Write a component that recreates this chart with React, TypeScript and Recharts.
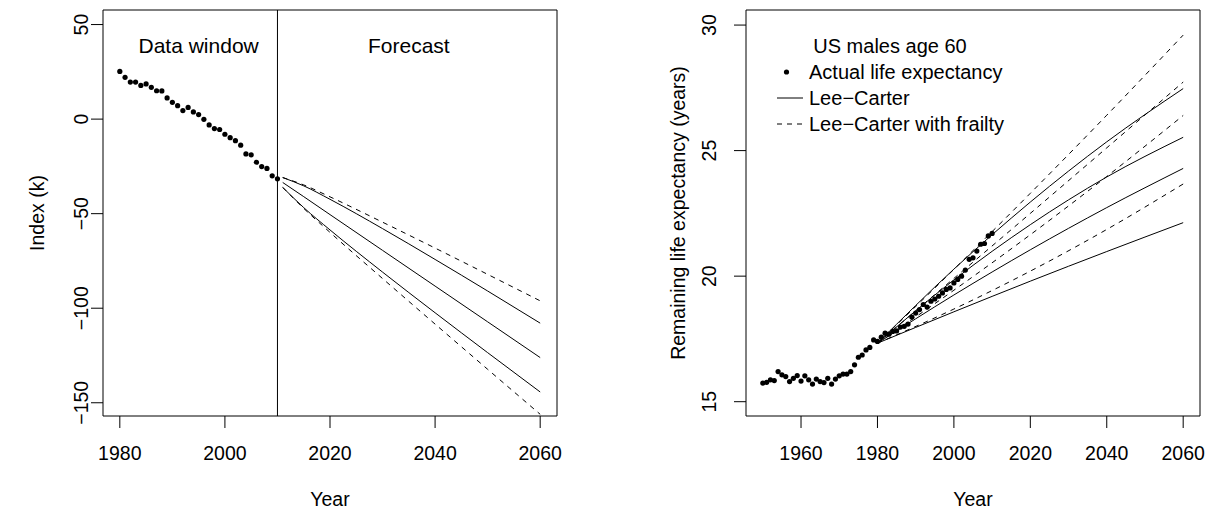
// Lee-Carter mortality index and life expectancy forecasts, two R-style panels.
import * as React from 'react'
import {
  ComposedChart,
  Legend,
  Line,
  ReferenceArea,
  ReferenceDot,
  ReferenceLine,
  Scatter,
  XAxis,
  YAxis
} from 'recharts'

const FONT = '"Liberation Sans", Arial, Helvetica, sans-serif'
const INK = '#000'
const DASH = '5 5'

// ---- left panel: mortality index k ----
const kYears = [
  1980, 1981, 1982, 1983, 1984, 1985, 1986, 1987, 1988, 1989, 1990, 1991, 1992, 1993, 1994, 1995,
  1996, 1997, 1998, 1999, 2000, 2001, 2002, 2003, 2004, 2005, 2006, 2007, 2008, 2009, 2010
]
const kIndex = [
  25.2, 22.1, 19.6, 19.6, 17.8, 18.6, 16.8, 15.0, 14.9, 11.2, 8.9, 7.1, 4.5, 6.2, 3.8, 2.4, -0.1,
  -3.1, -5.0, -5.5, -8.0, -9.8, -11.4, -13.8, -18.4, -18.9, -22.8, -25.1, -26.1, -30.0, -31.6
]
const kFcYears = [2011, 2015, 2020, 2030, 2040, 2050, 2060]
const kMean = [-33.5, -41.0, -50.5, -69.4, -88.3, -107.2, -126.1]
const kUpper = [-30.9, -35.3, -42.4, -57.9, -74.2, -90.9, -107.9]
const kLower = [-36.1, -46.8, -58.6, -80.9, -102.4, -123.5, -144.3]
const kUpperFrailty = [-30.9, -34.8, -41.1, -54.5, -68.2, -82.1, -96.1]
const kLowerFrailty = [-36.1, -47.2, -59.9, -84.3, -108.4, -132.3, -156.1]
const kXTicks = [1980, 2000, 2020, 2040, 2060]
const kYTicks = [-150, -100, -50, 0, 50]
const kXDomain = [1976.8, 2063.2]
const kYDomain = [-157, 57.7]

// ---- right panel: remaining life expectancy, US males age 60 ----
const leYears = [
  1950, 1951, 1952, 1953, 1954, 1955, 1956, 1957, 1958, 1959, 1960, 1961, 1962, 1963, 1964, 1965,
  1966, 1967, 1968, 1969, 1970, 1971, 1972, 1973, 1974, 1975, 1976, 1977, 1978, 1979, 1980, 1981,
  1982, 1983, 1984, 1985, 1986, 1987, 1988, 1989, 1990, 1991, 1992, 1993, 1994, 1995, 1996, 1997,
  1998, 1999, 2000, 2001, 2002, 2003, 2004, 2005, 2006, 2007, 2008, 2009, 2010
]
const leActual = [
  15.74, 15.77, 15.87, 15.84, 16.2, 16.07, 16.0, 15.8, 15.93, 16.04, 15.82, 16.03, 15.87, 15.7,
  15.9, 15.8, 15.76, 15.93, 15.7, 15.9, 16.03, 16.1, 16.1, 16.2, 16.47, 16.77, 16.86, 17.06, 17.16,
  17.46, 17.4, 17.57, 17.73, 17.69, 17.8, 17.82, 17.97, 18.0, 18.09, 18.37, 18.53, 18.67, 18.87,
  18.77, 19.0, 19.09, 19.2, 19.33, 19.47, 19.53, 19.73, 19.87, 20.0, 20.24, 20.67, 20.73, 21.0,
  21.27, 21.3, 21.6, 21.7
]
const leFcYears = [1980, 2000, 2020, 2040, 2060]
const leLeeCarter = [
  [17.33, 20.28, 22.95, 25.35, 27.47],
  [17.33, 19.85, 22.05, 23.95, 25.53],
  [17.33, 19.25, 21.05, 22.73, 24.29],
  [17.33, 18.58, 19.8, 20.98, 22.13]
]
const leFrailty = [
  [17.33, 20.27, 23.3, 26.41, 29.6],
  [17.33, 19.91, 22.5, 25.11, 27.73],
  [17.33, 19.44, 21.65, 23.97, 26.4],
  [17.33, 18.69, 20.2, 21.86, 23.67]
]
const leXTicks = [1960, 1980, 2000, 2020, 2040, 2060]
const leYTicks = [15, 20, 25, 30]
const leXDomain = [1945.6, 2064.4]
const leYDomain = [14.43, 30.6]

const pts = (xs: number[], ys: number[]) => xs.map((x, i) => ({ x, y: ys[i] }))
const minus = (v: number) => String(v).replace('-', '\u2212')

const Dot = (p: any) => <circle cx={p.cx} cy={p.cy} r={2.6} fill={INK} />

const VTick = (p: any) => (
  <text
    x={p.x}
    y={p.y}
    transform={`rotate(-90 ${p.x} ${p.y})`}
    textAnchor="middle"
    fontSize={19.5}
    fontFamily={FONT}
    fill={INK}
  >
    {minus(p.payload.value)}
  </text>
)

const yTitle = (text: string, dx: number) => (p: any) => {
  const vb = p.viewBox
  const cx = vb.x + dx
  const cy = vb.y + vb.height / 2
  return (
    <text
      x={cx}
      y={cy}
      transform={`rotate(-90 ${cx} ${cy})`}
      textAnchor="middle"
      fontSize={19.5}
      fontFamily={FONT}
      fill={INK}
    >
      {text}
    </text>
  )
}

const AXIS_TICK = { fill: INK, fontSize: 19.5, fontFamily: FONT }
const TICK_LINE = { stroke: INK, strokeWidth: 1 }
const X_TITLE = { value: 'Year', position: 'insideBottom', offset: 4, fill: INK, fontSize: 19.5, fontFamily: FONT } as const

function LegendBox(): React.JSX.Element {
  const row: React.CSSProperties = { display: 'flex', alignItems: 'center', height: 26, whiteSpace: 'nowrap' }
  const sym = (k: string) => (
    <svg width={32} height={26} style={{ flex: 'none' }}>
      {k === 'dot' && <circle cx={9.5} cy={13} r={2.6} fill={INK} />}
      {k === 'solid' && <line x1={0} x2={26} y1={13} y2={13} stroke={INK} strokeWidth={1} />}
      {k === 'dash' && (
        <line x1={0} x2={26} y1={13} y2={13} stroke={INK} strokeWidth={1} strokeDasharray={DASH} />
      )}
    </svg>
  )
  return (
    <div style={{ fontFamily: FONT, fontSize: 20, lineHeight: '26px', color: INK, width: 226 }}>
      <div style={{ textAlign: 'center', height: 26, whiteSpace: 'nowrap' }}>US males age 60</div>
      <div style={row}>
        {sym('dot')}
        <span>Actual life expectancy</span>
      </div>
      <div style={row}>
        {sym('solid')}
        <span>Lee{'\u2212'}Carter</span>
      </div>
      <div style={row}>
        {sym('dash')}
        <span>Lee{'\u2212'}Carter with frailty</span>
      </div>
    </div>
  )
}

function IndexPanel(): React.JSX.Element {
  const bands = [
    { data: kUpperFrailty, dash: DASH },
    { data: kUpper, dash: undefined },
    { data: kMean, dash: undefined },
    { data: kLower, dash: undefined },
    { data: kLowerFrailty, dash: DASH }
  ]
  return (
    <ComposedChart width={604} height={510} margin={{ top: 10, right: 47, bottom: 0, left: 0 }}>
      <XAxis
        type="number"
        dataKey="x"
        domain={kXDomain}
        ticks={kXTicks}
        allowDataOverflow
        axisLine={false}
        tickLine={TICK_LINE}
        tickSize={12}
        tickMargin={18}
        tick={AXIS_TICK}
        height={94}
        label={X_TITLE}
      />
      <YAxis
        type="number"
        dataKey="y"
        domain={kYDomain}
        ticks={kYTicks}
        allowDataOverflow
        axisLine={false}
        tickLine={TICK_LINE}
        tickSize={12}
        tickMargin={3}
        tick={<VTick />}
        width={103}
        label={{ content: yTitle('Index (k)', 44) }}
      />
      <ReferenceArea x1={kXDomain[0]} x2={kXDomain[1]} y1={kYDomain[0]} y2={kYDomain[1]} fill="none" fillOpacity={0} stroke={INK} strokeOpacity={1} />
      <ReferenceLine x={2010} stroke={INK} strokeWidth={1} />
      <ReferenceDot
        x={1995}
        y={39}
        r={0}
        fill="none"
        stroke="none"
        label={{ value: 'Data window', position: 'center', fill: INK, fontSize: 21, fontFamily: FONT }}
      />
      <ReferenceDot
        x={2035}
        y={39}
        r={0}
        fill="none"
        stroke="none"
        label={{ value: 'Forecast', position: 'center', fill: INK, fontSize: 21, fontFamily: FONT }}
      />
      <Scatter data={pts(kYears, kIndex)} shape={Dot} isAnimationActive={false} />
      {bands.map((b, i) => (
        <Line
          key={i}
          data={pts(kFcYears, b.data)}
          dataKey="y"
          type="monotone"
          stroke={INK}
          strokeWidth={1}
          strokeDasharray={b.dash}
          dot={false}
          activeDot={false}
          isAnimationActive={false}
        />
      ))}
    </ComposedChart>
  )
}

function LifePanel(): React.JSX.Element {
  return (
    <ComposedChart width={604} height={510} margin={{ top: 10, right: 8, bottom: 0, left: 0 }}>
      <XAxis
        type="number"
        dataKey="x"
        domain={leXDomain}
        ticks={leXTicks}
        allowDataOverflow
        axisLine={false}
        tickLine={TICK_LINE}
        tickSize={12}
        tickMargin={18}
        tick={AXIS_TICK}
        height={94}
        label={X_TITLE}
      />
      <YAxis
        type="number"
        dataKey="y"
        domain={leYDomain}
        ticks={leYTicks}
        allowDataOverflow
        axisLine={false}
        tickLine={TICK_LINE}
        tickSize={12}
        tickMargin={18}
        tick={<VTick />}
        width={142}
        label={{ content: yTitle('Remaining life expectancy (years)', 81) }}
      />
      <ReferenceArea x1={leXDomain[0]} x2={leXDomain[1]} y1={leYDomain[0]} y2={leYDomain[1]} fill="none" fillOpacity={0} stroke={INK} strokeOpacity={1} />
      <Legend
        layout="vertical"
        align="center"
        verticalAlign="middle"
        content={() => <LegendBox />}
        wrapperStyle={{ left: 173, top: 32.6, width: 226 }}
      />
      <Scatter data={pts(leYears, leActual)} shape={Dot} isAnimationActive={false} />
      {leLeeCarter.map((s, i) => (
        <Line
          key={'lc' + i}
          data={pts(leFcYears, s)}
          dataKey="y"
          type="monotone"
          stroke={INK}
          strokeWidth={1}
          dot={false}
          activeDot={false}
          isAnimationActive={false}
        />
      ))}
      {leFrailty.map((s, i) => (
        <Line
          key={'fr' + i}
          data={pts(leFcYears, s)}
          dataKey="y"
          type="monotone"
          stroke={INK}
          strokeWidth={1}
          strokeDasharray={DASH}
          dot={false}
          activeDot={false}
          isAnimationActive={false}
        />
      ))}
    </ComposedChart>
  )
}

export default function App(): React.JSX.Element {
  return (
    <div style={{ position: 'absolute', left: 0, top: 0, width: 1208, height: 510, background: '#fff' }}>
      <div style={{ position: 'absolute', left: 0, top: 0 }}>
        <IndexPanel />
      </div>
      <div style={{ position: 'absolute', left: 604, top: 0 }}>
        <LifePanel />
      </div>
    </div>
  )
}
